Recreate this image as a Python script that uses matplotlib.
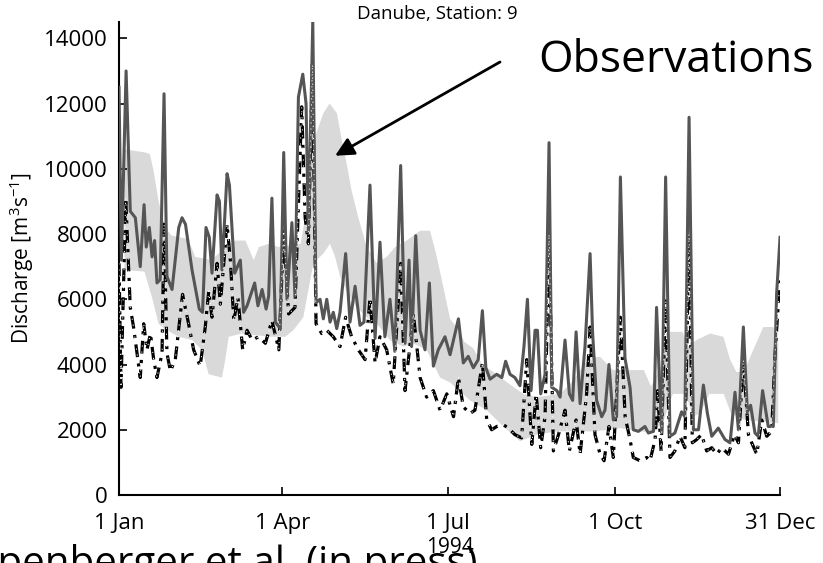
import numpy as np
import matplotlib
matplotlib.use("Agg")
import matplotlib.pyplot as plt

plt.rcParams['font.family'] = ['Open Sans', 'DejaVu Sans']
plt.rcParams['mathtext.fontset'] = 'custom'
plt.rcParams['mathtext.rm'] = 'Open Sans'
plt.rcParams['mathtext.it'] = 'Open Sans'

# day of year 1994 (0 = 1 Jan) and discharge [m3/s]
sim_days = [0, 1.3, 3.9, 6.2, 9, 11.7, 13.8, 15, 16.7, 18.2, 19.6, 20.9, 22.7, 24.8, 26.4, 29.2,
            32.9, 34.7, 36.6, 40.2, 44.2, 46, 47.9, 49.7, 51.2, 54, 55.3, 56.7, 59.5, 60.8, 63.7,
            66.8, 68.6, 70.5, 74.7, 76.5, 78.8, 81, 82.4, 84.2, 86.1, 88.8, 90.7, 92.5, 95.2, 96.9,
            98.8, 101.2, 103, 104.3, 106.7, 108.5, 110.7, 112.5, 114.4, 116.2, 118, 119.9, 121.7,
            124.8, 127.2, 130, 132.7, 134.9, 138.2, 141, 143.7, 146.4, 149.2, 151.9, 155.1, 157.5,
            159.7, 161.1, 163.4, 165.8, 168.5, 170.9, 173.1, 175.8, 179.5, 182.3, 186.9, 189.6,
            192.3, 195.1, 197.8, 200.1, 202, 204.3, 208, 210.8, 212.9, 215.3, 218, 220.8, 223,
            224.9, 226.9, 229.1, 230.4, 232.2, 234.6, 236.8, 238.3, 241.1, 242.9, 245.6, 248,
            249.8, 251.7, 253.9, 256.6, 259.4, 260.8, 263, 265.8, 267.6, 269.8, 272.2, 274, 276.1,
            278.6, 281.4, 283.2, 286, 289.6, 291.5, 294.3, 296, 298.8, 301, 303.4, 306.1, 309.8,
            311.6, 313.9, 316.3, 319.1, 321.8, 324, 326.4, 330, 333.7, 336.5, 339.2, 341.1, 343.8,
            346, 347.8, 350.2, 352, 354.4, 357.5, 360.3, 362.1, 364]
sim_solid = [12500, 7200, 13000, 8700, 8500, 7000, 8900, 7600, 8200, 7300, 7800, 6500, 6600, 12300,
             6700, 6300, 8200, 8500, 8300, 6900, 5700, 5600, 8200, 7900, 6800, 9200, 9000, 6900,
             9850, 9500, 6800, 7200, 5600, 5800, 6500, 5800, 6300, 5700, 6100, 9100, 5300, 5100,
             10500, 6000, 8350, 6100, 12200, 12900, 12000, 8100, 14500, 5900, 6000, 5400, 6000,
             5300, 5600, 5100, 5600, 7400, 5300, 6400, 5200, 5300, 9500, 4800, 7750, 4850, 6000,
             4400, 10100, 4650, 7200, 4550, 7950, 5050, 4450, 6500, 3950, 4450, 4850, 4300, 5400,
             4050, 4250, 3900, 4150, 5650, 3900, 3550, 3700, 3600, 4100, 3700, 3600, 3350, 4550,
             6000, 3200, 5050, 5050, 3100, 3700, 10800, 3300, 3200, 3000, 4750, 3100, 2900, 5000,
             2800, 4550, 7400, 4950, 2900, 2400, 2600, 4000, 2300, 2400, 9750, 4200, 3300, 2000,
             1950, 2100, 1900, 1950, 5750, 1900, 9750, 1800, 1900, 2550, 2400, 11580, 2000, 2000,
             3370, 2500, 1800, 2050, 1700, 1600, 3150, 2000, 5150, 2550, 2750, 1900, 1800, 3200,
             2100, 2100, 6150, 7900]

dash_days = [0, 1.1, 3.7, 6.2, 8, 11.7, 13.6, 15.4, 17.3, 19.1, 20.9, 23.7, 24.8, 26.4, 28.3, 31,
             35, 38.3, 41.1, 44.7, 47.5, 49.4, 51.2, 54, 55.8, 59.5, 61.3, 63.2, 65.5, 68.1, 70.5,
             73.3, 76.9, 80.6, 84.2, 88, 90.7, 93.4, 96.9, 100.6, 102.5, 104.3, 106.5, 108.5,
             111.6, 114.4, 118, 121.7, 124.8, 128.1, 131.8, 135.5, 138.2, 141, 143.7, 147.4, 151,
             155.1, 157.5, 162.1, 165.8, 169.4, 173.1, 176.8, 180.5, 184.2, 186.9, 189.6, 193.3,
             196, 200.1, 202.5, 205.2, 208, 211.7, 214.5, 218, 221.7, 224.5, 227.3, 229.7, 232.2,
             234.6, 236.8, 239.2, 242, 245.6, 248, 251.7, 253.9, 257.5, 259.4, 262.1, 264.9, 267.1,
             269.8, 272.2, 276.1, 278.7, 281.4, 283.2, 286.9, 290.6, 292.4, 295.2, 296.6, 298.5,
             301, 303.4, 306.1, 308.9, 311.6, 313.9, 315.7, 318.1, 320.8, 323.6, 326.4, 329.1,
             331.9, 335.6, 338.9, 341.1, 343.8, 346.6, 348.4, 351.2, 353.9, 356.7, 359.4, 361.3,
             364]
sim_dash = [7100, 3300, 9100, 5750, 5150, 3600, 5250, 4450, 4950, 4150, 3600, 4350, 8300, 4350,
            3800, 4150, 6150, 5250, 4450, 3950, 5150, 6250, 5450, 7100, 5850, 8300, 7200, 5350,
            6050, 4450, 5050, 4750, 4850, 4650, 5350, 4450, 8100, 5550, 5750, 11900, 8500, 7700,
            13200, 5250, 4950, 5050, 4850, 4550, 5450, 4850, 4450, 4150, 6050, 4050, 4850, 4450,
            3400, 7100, 3200, 5550, 3600, 3000, 3200, 2600, 3100, 2400, 3600, 2700, 2500, 2600,
            4050, 2300, 2000, 2100, 2150, 2050, 1850, 1750, 4150, 1550, 3100, 1450, 2400, 8000,
            1350, 1850, 2600, 1350, 2300, 1250, 3100, 5150, 1850, 1250, 1050, 2100, 1150, 5450,
            2400, 1700, 1150, 1050, 1150, 1050, 1700, 3200, 1350, 5950, 1150, 1350, 1800, 1450,
            8000, 1600, 1700, 1850, 1350, 1450, 1250, 1450, 1250, 1850, 1600, 4150, 1850, 1600,
            1250, 2300, 1800, 1950, 4350, 6700]

obs_up_days = [3, 14.5, 17, 19, 21.8, 25.5, 29, 38, 42, 51, 58.5, 64, 69.6, 74.2, 77, 82.4, 88,
               100, 104, 108, 112.5, 116, 120, 122.6, 125.4, 128, 131.8, 136.4, 142, 147.4, 152,
               158.4, 165.8, 171.3, 175, 178.7, 182.3, 187.8, 190, 195, 200, 208, 215, 222.6, 230,
               243, 250, 256, 261, 265, 272, 283, 289, 293, 298, 303.4, 310.2, 313.5, 318, 325.5,
               332.8, 336.5, 340, 344, 348.4, 354.8, 360.3, 363]
obs_upper = [10600, 10500, 10450, 9950, 9000, 8200, 7950, 7850, 7300, 7200, 7600, 7800, 7800, 7200,
             7600, 7700, 7600, 7700, 9000, 11000, 11700, 12000, 11700, 10900, 10150, 9350, 8500,
             7600, 7100, 7300, 7600, 7800, 8100, 8100, 7300, 6350, 5400, 5000, 4700, 4500, 4000,
             3700, 3400, 3100, 3000, 3100, 3500, 4000, 4230, 4230, 3830, 3830, 3830, 3320, 3900,
             5000, 5000, 4550, 4750, 4950, 4850, 4150, 3770, 3770, 4340, 5150, 5150, 4750]
obs_lo_days = [3, 14, 18.2, 21.8, 26.4, 32.9, 40.2, 45.7, 49.4, 56.7, 58.5, 60.4, 67.7, 75, 84,
               91.5, 96, 101.5, 107, 112.5, 116.2, 119, 121.7, 125.4, 130.9, 136.4, 142, 149.2,
               156.6, 162, 169.4, 176.8, 182.3, 193.3, 202.5, 211.7, 220.8, 230, 241, 252, 261,
               270, 276, 294, 300, 305, 312, 316, 320, 325, 333, 337, 345, 363]
obs_lower = [6900, 6850, 6050, 5250, 5050, 4850, 4750, 4450, 3700, 3600, 4150, 4850, 4950, 4900,
             4850, 4850, 5050, 5450, 7100, 7400, 7700, 7300, 6700, 6250, 5750, 5450, 5250, 4750,
             4550, 4650, 4450, 3600, 3450, 2900, 2600, 2100, 1650, 1850, 1950, 1950, 1950, 2000,
             2050, 1900, 2300, 3100, 3100, 2400, 2500, 3100, 3100, 2500, 2300, 2200]

tick_days = [0, 90, 181, 273, 364]
tick_names = ['1 Jan', '1 Apr', '1 Jul', '1 Oct', '31 Dec']

fig = plt.figure(figsize=(8.23, 5.63), dpi=100)
ax = fig.add_axes([0.1446, 0.1208, 0.8032, 0.8401])

ax.fill(obs_up_days + obs_lo_days[::-1], obs_upper + obs_lower[::-1],
        color='#d9d9d9', lw=0, zorder=1)
ax.plot(sim_days, sim_solid, color='#555555', lw=2.2, zorder=3)
ax.plot(dash_days, sim_dash, color='black', lw=2.3, ls=(0, (4, 2, 1, 2)), zorder=2)
ax.plot(dash_days, sim_dash, color='white', lw=0.7, ls=(0, (1.2, 5)), zorder=4)

ax.set_xlim(0, 364)
ax.set_ylim(0, 14500)
ax.set_yticks(np.arange(0, 14001, 2000))
ax.set_xticks(tick_days)
ax.set_xticklabels(tick_names)
ax.tick_params(direction='in', length=6, width=1.2, labelsize=16)
ax.tick_params(axis='x', pad=13)
ax.tick_params(axis='y', pad=8)
for s in ['top', 'right']:
    ax.spines[s].set_visible(False)
for s in ['left', 'bottom']:
    ax.spines[s].set_linewidth(1.5)

ax.set_ylabel('Discharge [m$^3$s$^{-1}$]', fontsize=15, labelpad=6)
ax.set_xlabel('1994', fontsize=15, labelpad=2)

fig.text(437 / 823, 1 - 19 / 563, 'Danube, Station: 9', fontsize=13.5, ha='center', va='baseline')
fig.text(538 / 823, 1 - 72 / 563, 'Observations', fontsize=32, ha='left', va='baseline')
ax.annotate('', xy=(119, 10400), xycoords='data',
            xytext=(500, 563 - 62), textcoords='figure pixels',
            arrowprops=dict(arrowstyle='-|>', mutation_scale=28, lw=2, color='black',
                            shrinkA=0, shrinkB=0))
fig.text(478 / 823, 1 - 575 / 563, 'Pappenberger et al. (in press)', fontsize=29,
         ha='right', va='baseline')

plt.savefig('out.png', dpi=100)
